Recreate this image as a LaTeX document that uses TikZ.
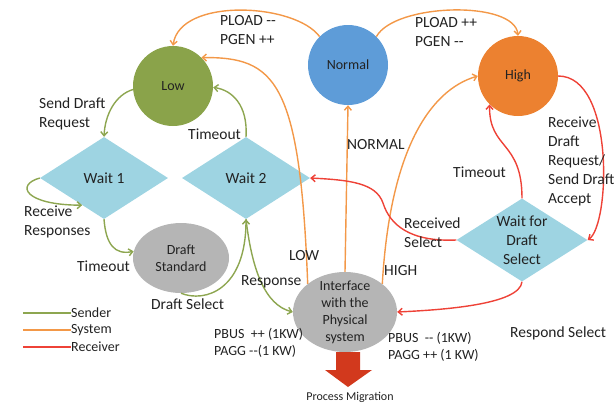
\documentclass[tikz,border=0pt]{standalone}
\usepackage{fontspec}
\setmainfont{Carlito}
\usetikzlibrary{shapes.geometric,arrows.meta,calc}

\definecolor{sendc}{HTML}{8DA650}
\definecolor{sysc}{HTML}{F39848}
\definecolor{recvc}{HTML}{EE4237}
\definecolor{lowfill}{HTML}{8AA34A}
\definecolor{normfill}{HTML}{5E9CD8}
\definecolor{highfill}{HTML}{EC8130}
\definecolor{waitfill}{HTML}{9ED4E2}
\definecolor{grayfill}{HTML}{B5B5B5}
\definecolor{migr}{HTML}{D2391D}
\definecolor{ink}{HTML}{222222}

% two plain hyphens, not an en dash
\newcommand{\dbl}{-{}-}

\begin{document}
\begin{tikzpicture}[x=1pt,y=-1pt,
  text=ink,
  big/.style={font=\fontsize{15.5}{19}\selectfont},
  small/.style={font=\fontsize{14}{17}\selectfont},
  state/.style={circle, minimum size=80pt, inner sep=0pt, small},
  waitbox/.style={diamond, fill=waitfill, inner sep=0pt, minimum width=128pt, minimum height=82pt, big},
  blob/.style={ellipse, fill=grayfill, inner sep=0pt},
  lbl/.style={anchor=west, align=left, inner sep=0pt, big},
  tr/.style={line width=1.4pt, -{Straight Barb[length=4pt,width=7pt]}},
  send/.style={tr, draw=sendc},
  sys/.style={tr, draw=sysc},
  recv/.style={tr, draw=recvc},
  key/.style={line width=2pt},
]
\useasboundingbox (0,0) rectangle (616,405);

% states
\node[state, fill=lowfill] (low) at (173,86) {Low};
\node[state, fill=normfill] (norm) at (348,65) {Normal};
\node[state, fill=highfill] (high) at (518,76) {High};

\node[waitbox] (w1) at (104,178) {Wait 1};
\node[waitbox] (w2) at (246,178) {Wait 2};
\node[waitbox, minimum width=131pt, minimum height=83pt] (wf) at (522,240) {};
\node[align=center, big, inner sep=0pt] (wft) at (wf) {Wait for\\Draft\\Select};

\node[blob, minimum width=96pt, minimum height=70pt, align=center, small] (ds) at (181,258) {Draft\\Standard};
\node[blob, minimum width=104pt, minimum height=80pt] (ifc) at (345,312) {};
\node[align=center, small, inner sep=0pt] (ifct) at (ifc) {Interface\\with the\\Physical\\system};

% process migration arrow
\fill[migr] (336,352) -- (360,352) -- (360,370) -- (372,370) -- (348,387) -- (325,370) -- (336,370) -- cycle;
\node[font=\fontsize{12}{14}\selectfont, inner sep=0pt] (pm) at (350,397) {Process Migration};

% sender transitions
\draw[send] (low.185) .. controls (115,95) and (105,115) .. (w1.north);
\draw[send] (w2.north) .. controls (248,105) and (232,90) .. (low.-2);
\coordinate (w1in) at ($(w1.west)!0.66!(w1.south)$);
\draw[send] (w1.west) .. controls (15,185) and (25,205) .. (w1in);
\draw[send] (w1.south) .. controls (106,245) and (115,255) .. (ds.172);
\draw[send] (ds.south) .. controls (205,303) and (246,290) .. (w2.south);
\draw[send] (w2.south) .. controls (252,270) and (265,305) .. (ifc.west);

% system transitions
\draw[sys] (norm.135) .. controls (295,3) and (180,-3) .. (low.north);
\draw[sys] (norm.45) .. controls (395,3) and (515,0) .. (high.north);
\draw[sys] (ifc.143) .. controls (300,80) and (275,57) .. (low.45);
\draw[sys] (ifc.north) -- (norm.south);
\draw[sys] (ifc.37) .. controls (390,150) and (430,90) .. (high.west);

% receiver transitions
\draw[recv] (high.east) .. controls (615,76) and (610,225) .. (wf.east);
\draw[recv] (wf.north) .. controls (522,140) and (489,150) .. (high.-135);
\coordinate (rbend) at (383,203);
\draw[recv] (wf.west) .. controls (410,242) and (390,225) .. (rbend) .. controls (376,183) and (350,180) .. (w2.east);
\draw[recv] (wf.south) .. controls (520,305) and (440,310) .. (ifc.east);

% transition labels
\node[lbl] (t1) at (39,114) {Send Draft\\Request};
\node[lbl] (t2) at (188,134) {Timeout};
\node[lbl] (t3) at (24,222) {Receive\\Responses};
\node[lbl] (t4) at (77,266) {Timeout};
\node[lbl] (t5) at (151,304) {Draft Select};
\node[lbl] (t6) at (241,282) {Response};
\node[lbl] (t7) at (289,256) {LOW};
\node[lbl] (t8) at (347,145) {NORMAL};
\node[lbl] (t9) at (384,271) {HIGH};
\node[lbl] (t10) at (220,30) {PLOAD \dbl\\PGEN ++};
\node[lbl] (t11) at (415,32) {PLOAD ++\\PGEN \dbl};
\node[lbl] (t12) at (548,161) {Receive\\Draft\\Request/\\Send Draft\\Accept};
\node[lbl] (t13) at (453,172) {Timeout};
\node[lbl] (t14) at (404,233) {Received\\Select};
\node[lbl] (t15) at (510,333) {Respond Select};
\node[lbl, small] (t16) at (214,343) {PBUS\ \ ++ (1KW)\\PAGG \dbl(1 KW)};
\node[lbl, small] (t17) at (388,347) {PBUS\ \ \dbl\ (1KW)\\PAGG ++ (1 KW)};

% legend
\node[lbl, small] (k1) at (71,313) {Sender};
\node[lbl, small] (k2) at (71,330) {System};
\node[lbl, small] (k3) at (71,347) {Receiver};
\coordinate (k1s) at (23,313);
\coordinate (k2s) at (23,330);
\coordinate (k3s) at (23,347);
\draw[key, sendc] (k1s) -- (k1.west);
\draw[key, sysc] (k2s) -- (k2.west);
\draw[key, recvc] (k3s) -- (k3.west);
\end{tikzpicture}
\end{document}
